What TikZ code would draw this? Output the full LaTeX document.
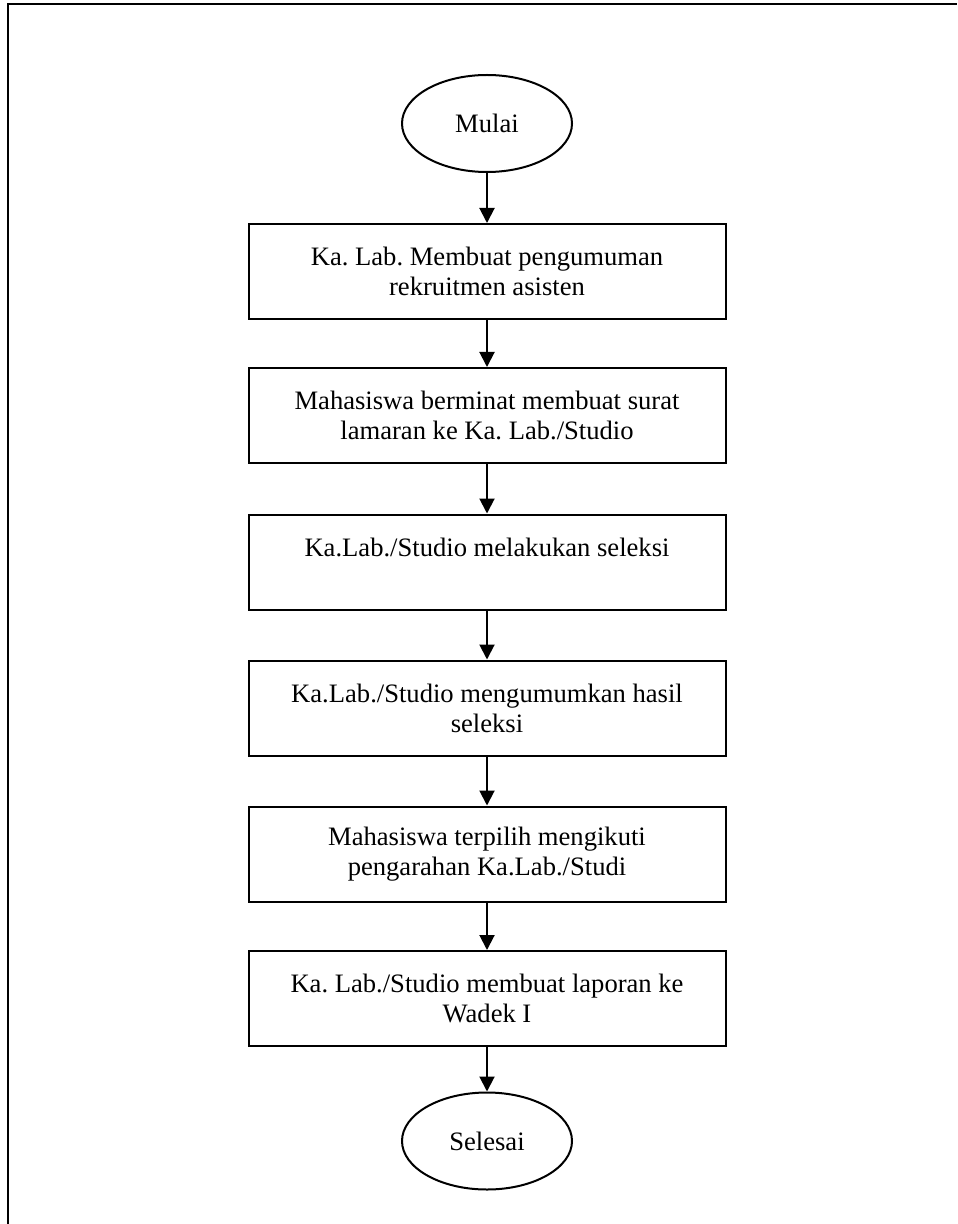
\documentclass[tikz,border=0pt]{standalone}
\usepackage{fontspec}
\setmainfont{Liberation Serif}
\usetikzlibrary{shapes.geometric,arrows.meta}
\frenchspacing
\tikzset{
	terminal/.style={draw,ellipse,line width=1pt,minimum width=85pt,minimum height=48.5pt,inner sep=0pt},
	proses/.style={draw,rectangle,line width=1pt,minimum width=238.5pt,minimum height=47.5pt,align=center,inner sep=0pt,execute at begin node=\rule{0pt}{14pt}},
	panah/.style={-{Triangle[width=7.5pt,length=7.5pt]},line width=1pt}
}
\begin{document}
\begin{tikzpicture}[x=.5pt,y=-.5pt,font=\fontsize{13.3}{15}\selectfont,line join=miter]
			\useasboundingbox (0,0) rectangle (957,1224);
			\draw[line width=1.3pt] (8,1224)--(8,4)--(957,4);
			\node[terminal] (mulai) at (487,123.5) {Mulai};
			\node[proses] (p1) at (487,271.5) {Ka. Lab. Membuat pengumuman\\rekruitmen asisten};
			\node[proses] (p2) at (487,415.5) {Mahasiswa berminat membuat surat\\lamaran ke Ka. Lab./Studio};
			\node[proses] (p3) at (487,562) {Ka.Lab./Studio melakukan seleksi\\\phantom{X}};
			\node[proses] (p4) at (487,708) {Ka.Lab./Studio mengumumkan hasil\\seleksi};
			\node[proses] (p5) at (487,854) {Mahasiswa terpilih mengikuti\\pengarahan Ka.Lab./Studi};
			\node[proses] (p6) at (487,998.5) {Ka. Lab./Studio membuat laporan ke\\Wadek I};
			\node[terminal] (selesai) at (487,1141) {Selesai};
			\foreach \a/\b in {mulai/p1,p1/p2,p2/p3,p3/p4,p4/p5,p5/p6,p6/selesai}
				\draw[panah] (\a.south)--(\b.north);
		\end{tikzpicture}
\end{document}
